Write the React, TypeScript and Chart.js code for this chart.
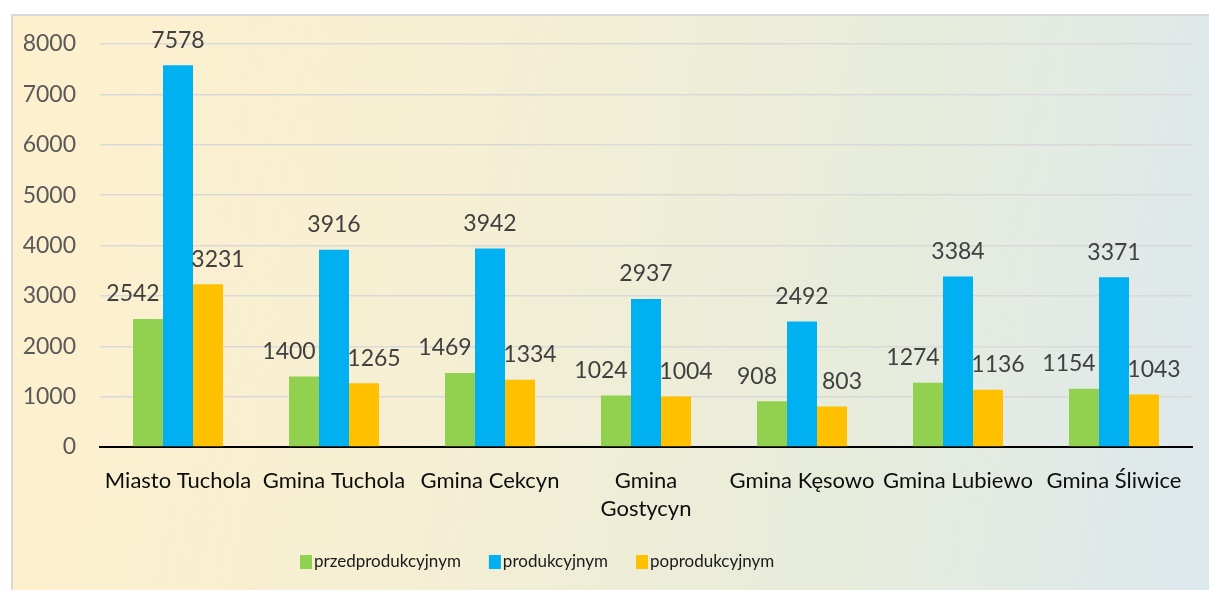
import React, { useEffect, useRef } from "react";
import { Chart, registerables } from "chart.js";

Chart.register(...registerables);

const categories: (string | string[])[] = [
  "Miasto Tuchola",
  "Gmina Tuchola",
  "Gmina Cekcyn",
  ["Gmina", "Gostycyn"],
  "Gmina Kęsowo",
  "Gmina Lubiewo",
  "Gmina Śliwice",
];
const seriesNames = ["przedprodukcyjnym", "produkcyjnym", "poprodukcyjnym"];
const przedprodukcyjnym = [2542, 1400, 1469, 1024, 908, 1274, 1154];
const produkcyjnym = [7578, 3916, 3942, 2937, 2492, 3384, 3371];
const poprodukcyjnym = [3231, 1265, 1334, 1004, 803, 1136, 1043];
const yMin = 0;
const yMax = 8000;
const yStep = 1000;

const colors = ["#92d050", "#00b0f0", "#ffc000"];
const labelOffsetsX = [-15, 0, 10];
const FONT = "Lato";

const dataLabelsPlugin = {
  id: "dataLabels",
  afterDatasetsDraw(chart: any) {
    const ctx = chart.ctx;
    ctx.save();
    ctx.font = `23px ${FONT}`;
    ctx.fillStyle = "#404040";
    ctx.textAlign = "center";
    ctx.textBaseline = "middle";
    chart.data.datasets.forEach((ds: any, di: number) => {
      const meta = chart.getDatasetMeta(di);
      meta.data.forEach((bar: any, i: number) => {
        ctx.fillText(String(ds.data[i]), bar.x + labelOffsetsX[di], bar.y - 25);
      });
    });
    ctx.restore();
  },
};

// Legend drawn below the plot (Excel-style: small square, text right next to it)
const customLegendPlugin = {
  id: "customLegend",
  afterDraw(chart: any) {
    const ctx = chart.ctx;
    ctx.save();
    ctx.font = `17px ${FONT}`;
    ctx.textBaseline = "middle";
    ctx.textAlign = "left";
    let x = 287;
    const cy = 546;
    chart.data.datasets.forEach((ds: any) => {
      ctx.fillStyle = ds.backgroundColor;
      ctx.fillRect(x, cy - 7, 12, 14);
      ctx.fillStyle = "#1a1a1a";
      const tx = x + 14;
      ctx.fillText(ds.label, tx, cy);
      x = tx + ctx.measureText(ds.label).width + 28;
    });
    ctx.restore();
  },
};

export default function App() {
  const ref = useRef<HTMLCanvasElement | null>(null);
  useEffect(() => {
    if (!ref.current) return;
    const chart = new Chart(ref.current, {
      type: "bar",
      data: {
        labels: categories as any,
        datasets: [przedprodukcyjnym, produkcyjnym, poprodukcyjnym].map((d, i) => ({
          label: seriesNames[i],
          data: d,
          backgroundColor: colors[i],
          borderWidth: 0,
          categoryPercentage: 0.577,
          barPercentage: 1,
        })),
      },
      options: {
        animation: false,
        responsive: true,
        maintainAspectRatio: false,
        layout: { padding: { top: 28, right: 17, left: 0, bottom: 56 } },
        plugins: {
          tooltip: { enabled: false },
          legend: { display: false },
        },
        scales: {
          x: {
            grid: { display: false, drawTicks: false },
            border: { display: true, color: "#000000", width: 2 },
            ticks: {
              color: "#0d0d0d",
              font: { family: FONT, size: 22, lineHeight: 1.27 },
              padding: 20,
              maxRotation: 0,
              autoSkip: false,
            },
            afterFit: (s: any) => {
              s.height = 87;
              s.paddingLeft = 0;
              s.paddingRight = 0;
            },
          },
          y: {
            min: yMin,
            max: yMax,
            grid: { color: "#d9d9d9", lineWidth: 1.5, drawTicks: false },
            border: { display: false },
            ticks: {
              stepSize: yStep,
              color: "#595959",
              font: { family: FONT, size: 23 },
              padding: 24,
              callback: (v: any) => String(v),
            },
            afterFit: (s: any) => {
              s.width = 87;
              s.paddingTop = 0;
              s.paddingBottom = 0;
            },
          },
        },
      },
      plugins: [dataLabelsPlugin, customLegendPlugin],
    });
    return () => chart.destroy();
  }, []);

  return (
    <div style={{ position: "fixed", left: 0, top: 0, width: 1209, height: 590, background: "#ffffff", overflow: "hidden" }}>
      <div
        style={{
          position: "absolute",
          left: 11,
          top: 14,
          width: 1200,
          height: 578,
          boxSizing: "border-box",
          borderTop: "2px solid #d9d9d9",
          borderLeft: "2px solid #d9d9d9",
          background:
            "linear-gradient(100deg, #fef0cd 0%, #f6efd3 35%, #e7ecdb 70%, #dde8ee 100%)",
        }}
      >
        <div style={{ position: "absolute", left: 0, top: 0, width: 1196, height: 574 }}>
          <canvas ref={ref} />
        </div>
      </div>
    </div>
  );
}
